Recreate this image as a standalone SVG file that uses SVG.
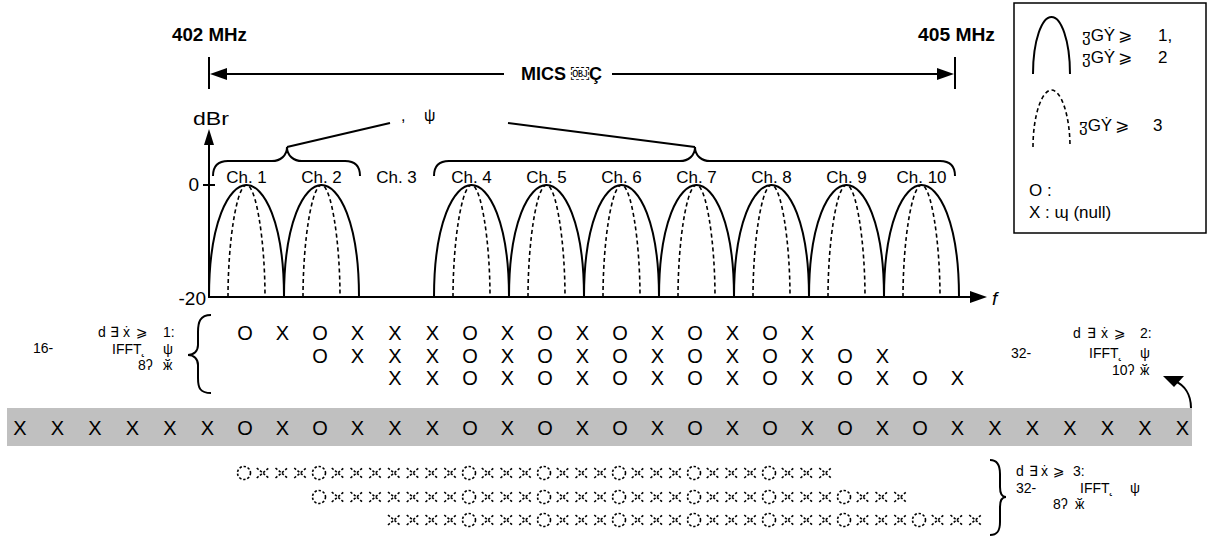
<svg xmlns="http://www.w3.org/2000/svg" xmlns:xlink="http://www.w3.org/1999/xlink" width="1212" height="537" viewBox="0 0 1212 537">
<style>
text{font-family:"Liberation Sans","DejaVu Sans","Noto Sans",sans-serif;fill:#000}
.b{font-weight:bold;font-size:18px}
.ch{font-size:17px;text-anchor:middle}
.ax{font-size:19px}
.sm{font-size:14px}
.lg{font-size:17px}
.sym{font-size:20px;text-anchor:middle}
.ln{stroke:#000;stroke-width:2;fill:none}
.lobe{stroke:#000;stroke-width:2;fill:none}
.dl{stroke:#000;stroke-width:1.6;fill:none;stroke-dasharray:4,3}
.dsh{stroke:#000;stroke-width:1.6;fill:none;stroke-dasharray:2.4,1.8}
</style>
<defs>
<path id="lobe" class="lobe" d="M0,297 C0,222 20,185 37.5,185 C55,185 75,222 75,297"/>
<path id="dlobe" class="dl" d="M19,297 C19,240 28,185 37.5,185 C47,185 56,240 56,297"/>
<g id="dO"><circle r="6.5" class="dsh"/></g>
<g id="dX"><path class="dsh" d="M-6,-5 L6,5 M-6,5 L6,-5"/></g>
<g id="gO"><use href="#dO"/><use href="#dX" x="18.75"/><use href="#dX" x="37.5"/><use href="#dX" x="56.25"/></g>
<g id="gX"><use href="#dX"/><use href="#dX" x="18.75"/><use href="#dX" x="37.5"/><use href="#dX" x="56.25"/></g>
</defs>
<rect width="1212" height="537" fill="#fff"/>

<g id="band-labels">
<text class="b" x="172" y="41" textLength="75" lengthAdjust="spacingAndGlyphs">402 MHz</text>
<text class="b" x="918" y="41" textLength="77" lengthAdjust="spacingAndGlyphs">405 MHz</text>
<text class="b" x="521" y="80">MICS ￼Ç</text>
<text font-size="16" y="121"><tspan x="401">,</tspan><tspan x="424">ψ</tspan></text>
</g>

<g id="connectors">
<line class="ln" x1="209" y1="57" x2="209" y2="89"/>
<line class="ln" x1="955" y1="57" x2="955" y2="89"/>
<line class="ln" x1="224" y1="74" x2="504" y2="74"/>
<line class="ln" x1="612" y1="74" x2="940" y2="74"/>
<polygon points="210,74 227,68 227,80"/>
<polygon points="954,74 937,68 937,80"/>
<line class="ln" x1="209" y1="298" x2="209" y2="142"/>
<polygon points="209,129 204,145 214,145"/>
<line class="ln" x1="203" y1="185" x2="215" y2="185"/>
<line class="ln" x1="208" y1="297" x2="972" y2="297"/>
<polygon points="987,297 970,291 970,303"/>
<path class="ln" d="M213,176 C213,166 218,161 228,161 L272,161 C280,161 287,156 287,147 C287,156 294,161 302,161 L345,161 C355,161 360,166 360,176"/>
<path class="ln" d="M434,176 C434,166 439,161 449,161 L680,161 C688,161 695,156 695,147 C695,156 702,161 710,161 L940,161 C950,161 955,166 955,176"/>
<line class="ln" x1="287" y1="147" x2="390" y2="123" stroke-width="1.8"/>
<line class="ln" x1="508" y1="123" x2="695" y2="147" stroke-width="1.8"/>
<path class="ln" d="M211,315 C200,315 198,322 198,332 L198,345 C198,351 194,355 188,355 C194,355 198,359 198,365 L198,378 C198,388 200,393 211,393" stroke-width="1.8"/>
<path class="ln" d="M990,460 C998,460 1000,466 1000,474 L1000,487 C1000,493 1002,497 1006,497 C1002,497 1000,501 1000,507 L1000,522 C1000,530 998,535 990,535" stroke-width="1.8"/>
<path class="ln" d="M1191,408 C1191,394 1184,385 1175,381" stroke-width="1.5"/>
<polygon points="1163,376 1184,376 1174,387"/>
</g>

<g id="axis-labels">
<text class="ax" x="193" y="125" textLength="36" lengthAdjust="spacingAndGlyphs">dBr</text>
<text class="ax" x="199" y="191" text-anchor="end">0</text>
<text class="ax" x="206" y="305" text-anchor="end" font-size="18">-20</text>
<text x="992" y="305" font-size="19" font-style="italic">f</text>
</g>

<g id="spectrum">
<use href="#lobe" x="209"/><use href="#dlobe" x="209"/>
<use href="#lobe" x="284"/><use href="#dlobe" x="284"/>
<use href="#lobe" x="434"/><use href="#dlobe" x="434"/>
<use href="#lobe" x="509"/><use href="#dlobe" x="509"/>
<use href="#lobe" x="584"/><use href="#dlobe" x="584"/>
<use href="#lobe" x="659"/><use href="#dlobe" x="659"/>
<use href="#lobe" x="734"/><use href="#dlobe" x="734"/>
<use href="#lobe" x="809"/><use href="#dlobe" x="809"/>
<use href="#lobe" x="884"/><use href="#dlobe" x="884"/>
<text class="ch" x="246.5" y="183">Ch. 1</text>
<text class="ch" x="321.5" y="183">Ch. 2</text>
<text class="ch" x="396.5" y="183">Ch. 3</text>
<text class="ch" x="471.5" y="183">Ch. 4</text>
<text class="ch" x="546.5" y="183">Ch. 5</text>
<text class="ch" x="621.5" y="183">Ch. 6</text>
<text class="ch" x="696.5" y="183">Ch. 7</text>
<text class="ch" x="771.5" y="183">Ch. 8</text>
<text class="ch" x="846.5" y="183">Ch. 9</text>
<text class="ch" x="921.5" y="183">Ch. 10</text>
</g>

<g id="legend">
<rect x="1014" y="3" width="192" height="230" fill="#fff" stroke="#000" stroke-width="1.5"/>
<path class="lobe" d="M1033,74 C1033,40 1042,17 1051.5,17 C1061,17 1070,40 1070,74"/>
<path class="dl" d="M1033,147 C1033,115 1042,90 1051.5,90 C1061,90 1070,115 1070,147"/>
<text class="lg" y="41"><tspan x="1082">ჳGẎ</tspan><tspan x="1118">⩾</tspan><tspan x="1158">1,</tspan></text>
<text class="lg" y="63"><tspan x="1082">ჳGẎ</tspan><tspan x="1118">⩾</tspan><tspan x="1158">2</tspan></text>
<text class="lg" y="131"><tspan x="1079">ჳGẎ</tspan><tspan x="1115">⩾</tspan><tspan x="1153">3</tspan></text>
<text class="lg" x="1029" y="196">O :</text>
<text class="lg" x="1029" y="218">X : ɰ (null)</text>
</g>

<g id="mode1-2">
<text class="sm" x="33" y="353">16-</text>
<text class="sm" y="337"><tspan x="98">d</tspan><tspan x="110">∃</tspan><tspan x="123">ẋ</tspan><tspan x="136">⩾</tspan><tspan x="163">1:</tspan></text>
<text class="sm" y="354"><tspan x="112">IFFT</tspan><tspan x="141">˛</tspan><tspan x="163">ψ</tspan></text>
<text class="sm" y="370"><tspan x="138">8ʔ</tspan><tspan x="163">ӂ</tspan></text>
<text class="sym" y="340" x="245 282.5 320 357.5 395 432.5 470 507.5 545 582.5 620 657.5 695 732.5 770 807.5">OXOXXXOXOXOXOXOX</text>
<text class="sym" y="363" x="320 357.5 395 432.5 470 507.5 545 582.5 620 657.5 695 732.5 770 807.5 845 882.5">OXXXOXOXOXOXOXOX</text>
<text class="sym" y="385" x="395 432.5 470 507.5 545 582.5 620 657.5 695 732.5 770 807.5 845 882.5 920 957.5">XXOXOXOXOXOXOXOX</text>
<text class="sm" x="1011" y="358">32-</text>
<text class="sm" y="338"><tspan x="1073">d</tspan><tspan x="1087">∃</tspan><tspan x="1101">ẋ</tspan><tspan x="1114">⩾</tspan><tspan x="1140">2:</tspan></text>
<text class="sm" y="358"><tspan x="1089">IFFT</tspan><tspan x="1118">˛</tspan><tspan x="1140">ψ</tspan></text>
<text class="sm" y="375"><tspan x="1112">10ʔ</tspan><tspan x="1140">ӂ</tspan></text>
</g>

<g id="ifft-band">
<rect x="7" y="408" width="1185" height="38" fill="#c0c0c0"/>
<text class="sym" y="435" x="20 57.5 95 132.5 170 207.5 245 282.5 320 357.5 395 432.5 470 507.5 545 582.5 620 657.5 695 732.5 770 807.5 845 882.5 920 957.5 995 1032.5 1070 1107.5 1145 1182.5">XXXXXXOXOXXXOXOXOXOXOXOXOXXXXXXX</text>
</g>

<g id="mode3">
<g transform="translate(244,473)">
<use href="#gO" x="0"/><use href="#gO" x="75"/><use href="#gX" x="150"/><use href="#gO" x="225"/><use href="#gO" x="300"/><use href="#gO" x="375"/><use href="#gO" x="450"/><use href="#gO" x="525"/>
</g>
<g transform="translate(319,497)">
<use href="#gO" x="0"/><use href="#gX" x="75"/><use href="#gO" x="150"/><use href="#gO" x="225"/><use href="#gO" x="300"/><use href="#gO" x="375"/><use href="#gO" x="450"/><use href="#gO" x="525"/>
</g>
<g transform="translate(394,520)">
<use href="#gX" x="0"/><use href="#gO" x="75"/><use href="#gO" x="150"/><use href="#gO" x="225"/><use href="#gO" x="300"/><use href="#gO" x="375"/><use href="#gO" x="450"/><use href="#gO" x="525"/>
</g>
<text class="sm" y="476"><tspan x="1016">d</tspan><tspan x="1029">∃</tspan><tspan x="1041">ẋ</tspan><tspan x="1053">⩾</tspan><tspan x="1073">3:</tspan></text>
<text class="sm" x="1016" y="493">32-</text>
<text class="sm" y="493"><tspan x="1080">IFFT</tspan><tspan x="1109">˛</tspan><tspan x="1130">ψ</tspan></text>
<text class="sm" y="509"><tspan x="1053">8ʔ</tspan><tspan x="1075">ӂ</tspan></text>
</g>
</svg>
